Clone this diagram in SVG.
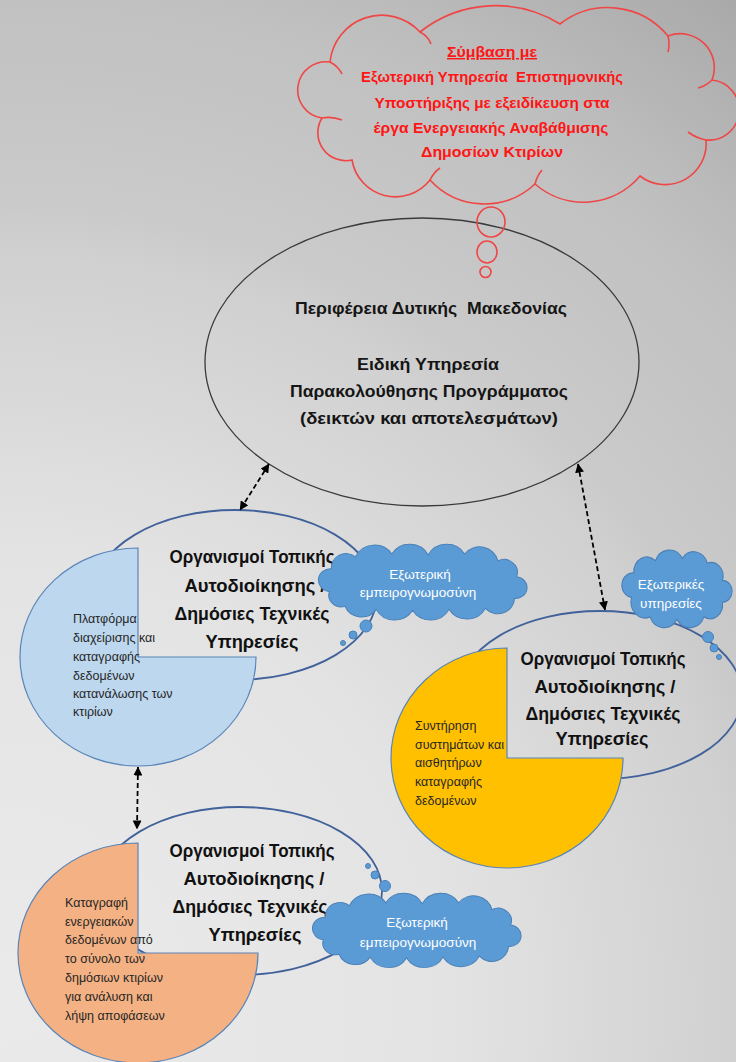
<svg xmlns="http://www.w3.org/2000/svg" width="736" height="1062" viewBox="0 0 736 1062">
<defs>
<radialGradient id="bg" gradientUnits="userSpaceOnUse" cx="0" cy="1000" r="1250">
<stop offset="0" stop-color="#eaeaea"/>
<stop offset="0.2" stop-color="#e7e7e7"/>
<stop offset="0.36" stop-color="#e3e3e3"/>
<stop offset="0.4" stop-color="#e0e0e0"/>
<stop offset="0.52" stop-color="#d6d6d6"/>
<stop offset="0.59" stop-color="#d1d1d1"/>
<stop offset="0.64" stop-color="#cacaca"/>
<stop offset="0.8" stop-color="#c1c1c1"/>
<stop offset="0.84" stop-color="#bdbdbd"/>
<stop offset="1" stop-color="#a8a8a8"/>
</radialGradient>
<marker id="ah" viewBox="0 0 10 10" refX="9.5" refY="5" markerWidth="9" markerHeight="9" markerUnits="userSpaceOnUse" orient="auto-start-reverse">
<path d="M0,0 L10,5 L0,10 z" fill="#000"/>
</marker>
<path id="cloudS" d="M8,38 A10,10 0 0 1 10,18 A12,12 0 0 1 30,8 A14,14 0 0 1 55,6 A13,13 0 0 1 78,10 A11,11 0 0 1 92,24 A9,9 0 0 1 92,42 A11.5,11.5 0 0 1 75,54 A14,14 0 0 1 50,56 A14,14 0 0 1 25,54 A13,13 0 0 1 8,38 Z"/>
<path id="cloudW" d="M10,45 A11.5,11.5 0 0 1 12,22 A14,14 0 0 1 35,10 A20,20 0 0 1 70,7 A20,20 0 0 1 105,8 A20,20 0 0 1 140,7 A18,18 0 0 1 172,14 A13,13 0 0 1 190,30 A11,11 0 0 1 188,52 A16,16 0 0 1 160,62 A20,20 0 0 1 125,63 A20,20 0 0 1 90,64 A20,20 0 0 1 55,63 A17,17 0 0 1 25,60 A12,12 0 0 1 10,45 Z"/>
</defs>
<style>
text{font-family:"Liberation Sans",Arial,sans-serif}
.tm{font-weight:bold;font-size:17px;fill:#151515;text-anchor:middle}
.tn{font-weight:bold;font-size:18.5px;fill:#111;text-anchor:middle}
.tr{font-weight:bold;font-size:14.5px;fill:#ff1515;text-anchor:middle}
.tp{font-size:12.5px;fill:#262626}
.tc{font-size:13.5px;fill:#ffffff;text-anchor:middle}
.ring{fill:none;stroke:#41619a;stroke-width:1.8}
.pie{stroke:#5a85b8;stroke-width:1.2}
.bc{fill:#5b9bd5;stroke:#4a80b8;stroke-width:1;vector-effect:non-scaling-stroke}
.red{fill:none;stroke:#f04646;stroke-width:1.6}
.conn{fill:none;stroke:#000;stroke-width:1.8;stroke-dasharray:5 3;marker-start:url(#ah);marker-end:url(#ah)}
</style>
<rect x="0" y="0" width="736" height="1062" fill="url(#bg)"/>

<g id="node-main">
<ellipse cx="422" cy="362" rx="217" ry="144" fill="none" stroke="#3a3a3a" stroke-width="1.3"/>
<text class="tm" x="431" y="314" textLength="272" lengthAdjust="spacingAndGlyphs" xml:space="preserve">Περιφέρεια Δυτικής  Μακεδονίας</text>
<text class="tm" x="428" y="370" textLength="142" lengthAdjust="spacingAndGlyphs">Ειδική Υπηρεσία</text>
<text class="tm" x="429" y="397" textLength="278" lengthAdjust="spacingAndGlyphs">Παρακολούθησης Προγράμματος</text>
<text class="tm" x="429" y="424" textLength="258" lengthAdjust="spacingAndGlyphs">(δεικτών και αποτελεσμάτων)</text>
</g>

<g id="node-contract">
<path class="red" d="M322,118 A28,28 0 0 1 330,62 A52,52 0 0 1 420,32 A122,122 0 0 1 560,24 A78,78 0 0 1 668,36 A34,34 0 0 1 712,80 A30,30 0 0 1 706,140 A41,41 0 0 1 640,176 A74,74 0 0 1 535,184 A74,74 0 0 1 430,180 A44,44 0 0 1 352,160 A28,28 0 0 1 322,118 Z"/>
<path class="red" d="M330,62 Q338,66 342,74 M420,32 Q428,36 431,44 M668,36 Q670,44 668,52 M712,80 Q706,86 698,88 M706,140 Q696,138 688,132 M535,184 Q537,176 542,170 M430,180 Q434,172 440,168 M322,118 Q332,116 342,120"/>
<ellipse class="red" cx="491" cy="222" rx="14" ry="15"/>
<ellipse class="red" cx="487" cy="252" rx="10" ry="11"/>
<circle class="red" cx="485.5" cy="272" r="5.5"/>
<text class="tr" x="492" y="57" textLength="90" lengthAdjust="spacingAndGlyphs" text-decoration="underline">Σύμβαση με</text>
<text class="tr" x="492" y="82" textLength="262" lengthAdjust="spacingAndGlyphs" xml:space="preserve">Εξωτερική Υπηρεσία  Επιστημονικής</text>
<text class="tr" x="492" y="108" textLength="235" lengthAdjust="spacingAndGlyphs">Υποστήριξης με εξειδίκευση στα</text>
<text class="tr" x="491" y="133" textLength="235" lengthAdjust="spacingAndGlyphs">έργα Ενεργειακής Αναβάθμισης</text>
<text class="tr" x="492" y="157" textLength="142" lengthAdjust="spacingAndGlyphs">Δημοσίων Κτιρίων</text>
</g>

<g id="node-lta-1">
<ellipse class="ring" cx="235" cy="595" rx="142" ry="85"/>
<path class="pie" fill="#bdd7ee" d="M138,657 L138,548 A118,109 0 1 0 256,657 Z"/>
<text class="tn" x="252" y="563" textLength="165" lengthAdjust="spacingAndGlyphs">Οργανισμοί Τοπικής</text>
<text class="tn" x="255" y="592" textLength="141" lengthAdjust="spacingAndGlyphs">Αυτοδιοίκησης /</text>
<text class="tn" x="252" y="620" textLength="155" lengthAdjust="spacingAndGlyphs">Δημόσιες Τεχνικές</text>
<text class="tn" x="252" y="648" textLength="93" lengthAdjust="spacingAndGlyphs">Υπηρεσίες</text>
</g>
<g id="node-platform">
<text class="tp" x="73" y="623">Πλατφόρμα</text>
<text class="tp" x="73" y="642">διαχείρισης και</text>
<text class="tp" x="73" y="661">καταγραφής</text>
<text class="tp" x="73" y="680">δεδομένων</text>
<text class="tp" x="73" y="698">κατανάλωσης των</text>
<text class="tp" x="73" y="716">κτιρίων</text>
</g>
<g id="node-expert-1">
<use href="#cloudW" class="bc" transform="translate(319,547) scale(1.04,0.99)"/>
<circle class="bc" cx="366" cy="626" r="6"/>
<circle class="bc" cx="353" cy="635" r="4"/>
<circle class="bc" cx="343" cy="643" r="2.5"/>
<text class="tc" x="420" y="579">Εξωτερική</text>
<text class="tc" x="418" y="597">εμπειρογνωμοσύνη</text>
</g>

<g id="node-lta-2">
<ellipse class="ring" cx="600" cy="695" rx="142" ry="84"/>
<path class="pie" fill="#ffc000" d="M507,758 L507,648 A116,110 0 1 0 623,758 Z"/>
<text class="tn" x="603" y="665" textLength="165" lengthAdjust="spacingAndGlyphs">Οργανισμοί Τοπικής</text>
<text class="tn" x="605" y="693" textLength="141" lengthAdjust="spacingAndGlyphs">Αυτοδιοίκησης /</text>
<text class="tn" x="603" y="720" textLength="155" lengthAdjust="spacingAndGlyphs">Δημόσιες Τεχνικές</text>
<text class="tn" x="602" y="745" textLength="93" lengthAdjust="spacingAndGlyphs">Υπηρεσίες</text>
</g>
<g id="node-maintenance">
<text class="tp" x="415" y="730">Συντήρηση</text>
<text class="tp" x="415" y="748.5">συστημάτων και</text>
<text class="tp" x="415" y="767">αισθητήρων</text>
<text class="tp" x="415" y="786">καταγραφής</text>
<text class="tp" x="415" y="805">δεδομένων</text>
</g>
<g id="node-services">
<use href="#cloudS" class="bc" transform="translate(623,551) scale(1.08,1.22)"/>
<circle class="bc" cx="708" cy="637" r="5.5"/>
<circle class="bc" cx="714" cy="648" r="4"/>
<circle class="bc" cx="719" cy="657" r="2.5"/>
<text class="tc" x="671" y="589">Εξωτερικές</text>
<text class="tc" x="671" y="608">υπηρεσίες</text>
</g>

<g id="node-lta-3">
<ellipse class="ring" cx="240" cy="891" rx="142" ry="84"/>
<path class="pie" fill="#f4b183" d="M138,953 L138,843 A120,110 0 1 0 258,953 Z"/>
<text class="tn" x="252" y="857" textLength="165" lengthAdjust="spacingAndGlyphs">Οργανισμοί Τοπικής</text>
<text class="tn" x="254" y="885" textLength="141" lengthAdjust="spacingAndGlyphs">Αυτοδιοίκησης /</text>
<text class="tn" x="250" y="913" textLength="155" lengthAdjust="spacingAndGlyphs">Δημόσιες Τεχνικές</text>
<text class="tn" x="255" y="941" textLength="93" lengthAdjust="spacingAndGlyphs">Υπηρεσίες</text>
</g>
<g id="node-recording">
<text class="tp" x="65" y="907">Καταγραφή</text>
<text class="tp" x="65" y="926">ενεργειακών</text>
<text class="tp" x="65" y="944">δεδομένων από</text>
<text class="tp" x="65" y="963">το σύνολο των</text>
<text class="tp" x="65" y="982">δημόσιων κτιρίων</text>
<text class="tp" x="65" y="1001">για ανάλυση και</text>
<text class="tp" x="65" y="1020">λήψη αποφάσεων</text>
</g>
<g id="node-expert-2">
<use href="#cloudW" class="bc" transform="translate(313,896) scale(1.04,0.97)"/>
<circle class="bc" cx="385" cy="886" r="5.5"/>
<circle class="bc" cx="375" cy="875" r="4"/>
<circle class="bc" cx="368" cy="866" r="2.5"/>
<text class="tc" x="417" y="927">Εξωτερική</text>
<text class="tc" x="418" y="947">εμπειρογνωμοσύνη</text>
</g>

<g id="connectors">
<path class="conn" d="M269,464 L240,510"/>
<path class="conn" d="M578,464 L605,610"/>
<path class="conn" d="M138,767 L137,829"/>
</g>
</svg>
